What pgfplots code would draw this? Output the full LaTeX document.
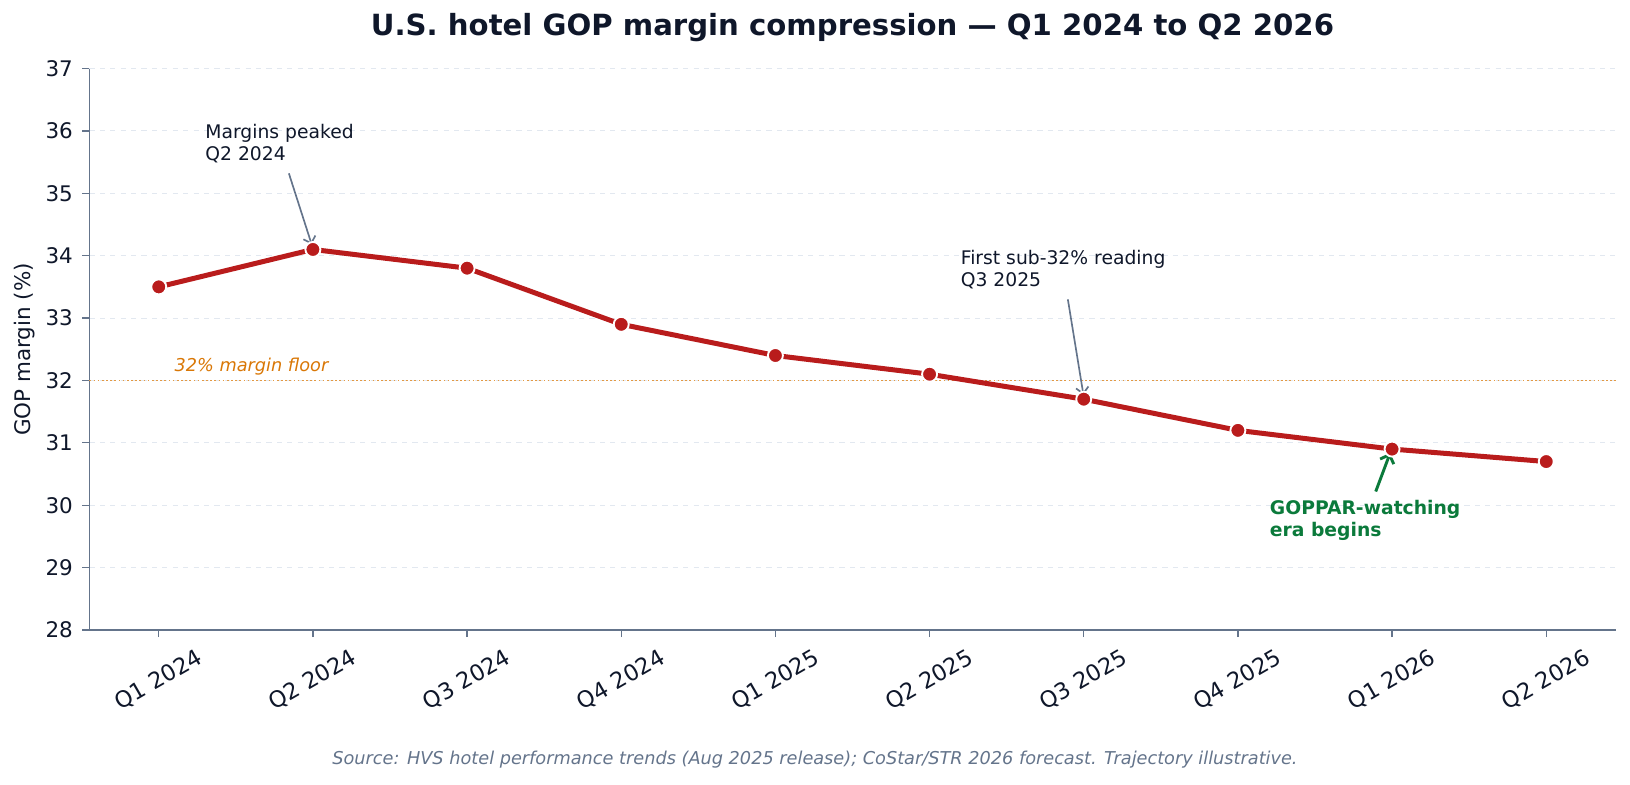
\documentclass[border=0pt]{standalone}
\usepackage{fontspec}
\setmainfont{DejaVu Sans}
\usepackage{pgfplots}
\pgfplotsset{compat=1.18}
\usetikzlibrary{arrows.meta}
\definecolor{titlec}{HTML}{0F172A}
\definecolor{spine}{HTML}{64748B}
\definecolor{gridc}{HTML}{E2E8F0}
\definecolor{redc}{HTML}{B91C1C}
\definecolor{floorc}{HTML}{D97706}
\definecolor{greenc}{HTML}{0B7A3B}
\begin{document}
\begin{tikzpicture}
\path[use as bounding box] (-42.9pt,-74.4pt) rectangle (739.5pt,302.4pt);
\begin{axis}[
  at={(0pt,0pt)}, anchor=south west,
  width=732.6pt, height=269.5pt, scale only axis,
  xmin=-0.45, xmax=9.45, ymin=28, ymax=37,
  xtick={0,...,9}, ytick={28,...,37},
  xticklabels={Q1 2024,Q2 2024,Q3 2024,Q4 2024,Q1 2025,Q2 2025,Q3 2025,Q4 2025,Q1 2026,Q2 2026},
  axis x line=bottom, axis y line=left,
  axis line style={-, draw=spine, line width=0.8pt},
  tick align=outside, major tick length=3.4pt,
  tick style={draw=spine, line width=0.6pt},
  ymajorgrids, major grid style={draw=gridc, line width=0.5pt, dash pattern=on 2.5pt off 2.5pt},
  /pgf/number format/assume math mode=true,
  tick label style={text=titlec},
  xticklabel style={font=\fontsize{10.8}{13}\selectfont, yshift=-20.6pt, rotate=30, anchor=center},
  yticklabel style={font=\fontsize{10.3}{12}\selectfont, anchor=east, xshift=-1pt},
  clip=false,
]
\addplot[floorc!75, line width=0.8pt, dash pattern=on 0.8pt off 1.2pt] coordinates {(-0.45,32) (9.45,32)};
\addplot[redc, line width=2.4pt, mark=*, mark size=3.6pt, mark options={fill=redc, draw=white, line width=0.9pt}]
 coordinates {(0,33.5) (1,34.1) (2,33.8) (3,32.9) (4,32.4) (5,32.1) (6,31.7) (7,31.2) (8,30.9) (9,30.7)};
\node[anchor=base west, inner sep=0pt, font=\fontsize{8.5}{10}\itshape\selectfont, text=floorc] at (axis cs:0.10,32.15) {32\% margin floor};
\node[anchor=north west, inner sep=0pt, align=left, font=\fontsize{9}{10.8}\selectfont, text=titlec] at (axis cs:0.30,36.12) {Margins peaked\\Q2 2024};
\draw[spine, line width=0.8pt, -{Straight Barb[length=3pt]}] (axis cs:0.844,35.32) -- (axis cs:0.992,34.18);
\node[anchor=north west, inner sep=0pt, align=left, font=\fontsize{9}{10.8}\selectfont, text=titlec] at (axis cs:5.20,34.1) {First sub-32\% reading\\Q3 2025};
\draw[spine, line width=0.8pt, -{Straight Barb[length=3pt]}] (axis cs:5.897,33.30) -- (axis cs:5.998,31.77);
\node[anchor=north west, inner sep=0pt, align=left, font=\fontsize{9}{10.8}\bfseries\selectfont, text=greenc] at (axis cs:7.205,30.09) {GOPPAR-watching\\era begins};
\draw[greenc, line width=1.4pt, -{Straight Barb[length=3.5pt]}] (axis cs:7.894,30.22) -- (axis cs:7.988,30.84);
\end{axis}
\node[font=\fontsize{14}{17}\bfseries\selectfont, text=titlec] at (366.3pt,289pt) {U.S. hotel GOP margin compression — Q1 2024 to Q2 2026};
\node[rotate=90, font=\fontsize{10.3}{12}\selectfont, text=titlec] at (-30.9pt,134.7pt) {GOP margin (\%)};
\node[font=\fontsize{8.5}{10}\itshape\selectfont, text=spine] at (348.3pt,-62.4pt) {Source: HVS hotel performance trends (Aug 2025 release); CoStar/STR 2026 forecast. Trajectory illustrative.};
\end{tikzpicture}
\end{document}
